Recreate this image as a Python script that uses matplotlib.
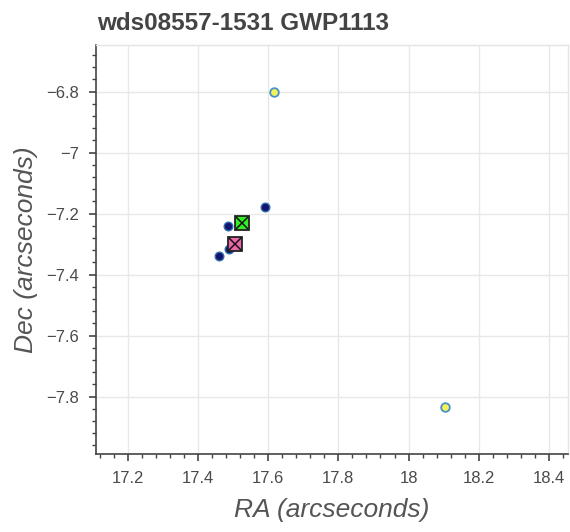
import matplotlib
matplotlib.use("Agg")
import matplotlib.pyplot as plt
from matplotlib.ticker import MultipleLocator, AutoMinorLocator, FuncFormatter

plt.rcParams['font.family'] = ['Liberation Sans', 'DejaVu Sans']

title = "wds08557-1531 GWP1113"
xlabel = "RA (arcseconds)"
ylabel = "Dec (arcseconds)"

# measurements (dark blue dots)
meas_ra = [17.591, 17.487, 17.489, 17.459]
meas_dec = [-7.177, -7.242, -7.315, -7.338]

# reference positions (yellow circles)
ref_ra = [17.618, 18.104]
ref_dec = [-6.802, -7.835]

# highlighted points
green_ra, green_dec = [17.526], [-7.231]
pink_ra, pink_dec = [17.507], [-7.298]

xlim = (17.11, 18.454)
ylim = (-7.988, -6.647)

fig = plt.figure(figsize=(5.70, 5.32), dpi=100)
ax = fig.add_axes([96/570, 1-454/532, (568-96)/570, (454-45)/532])

ax.set_xlim(*xlim)
ax.set_ylim(*ylim)

ax.grid(True, which='major', color='#e8e8e8', linewidth=1.0, zorder=0)
ax.set_axisbelow(True)

ax.plot(ref_ra, ref_dec, 'o', ms=6.2, mfc='#f2f25a', mec='#4a90c8', mew=1.3, zorder=3, linestyle='none')
ax.plot(meas_ra, meas_dec, 'o', ms=6.2, mfc='#14146e', mec='#2f6fb0', mew=1.0, zorder=3, linestyle='none')
ax.plot(green_ra, green_dec, 's', ms=10, mfc='#33ee22', mec='#222222', mew=1.3, zorder=4, linestyle='none')
ax.plot(green_ra, green_dec, 'x', ms=8.5, mec='#111111', mew=1.1, zorder=5, linestyle='none')
ax.plot(pink_ra, pink_dec, 's', ms=10, mfc='#ee66aa', mec='#222222', mew=1.3, zorder=4, linestyle='none')
ax.plot(pink_ra, pink_dec, 'x', ms=8.5, mec='#111111', mew=1.1, zorder=5, linestyle='none')

ax.xaxis.set_major_locator(MultipleLocator(0.2))
ax.yaxis.set_major_locator(MultipleLocator(0.2))
ax.xaxis.set_minor_locator(AutoMinorLocator(5))
ax.yaxis.set_minor_locator(AutoMinorLocator(5))

def fmt(v, pos):
    s = "%g" % round(v, 6)
    return s.replace('-', '\u2212')

ax.xaxis.set_major_formatter(FuncFormatter(fmt))
ax.yaxis.set_major_formatter(FuncFormatter(fmt))

for sp in ['top', 'right']:
    ax.spines[sp].set_color('#e5e5e5')
    ax.spines[sp].set_linewidth(1.0)
for sp in ['left', 'bottom']:
    ax.spines[sp].set_color('#444444')
    ax.spines[sp].set_linewidth(1.2)

ax.tick_params(which='major', direction='out', length=5, width=1.2, color='#444444',
               labelsize=12, labelcolor='#4a4a4a', pad=7)
ax.tick_params(which='minor', direction='out', length=3, width=1.0, color='#444444')

ax.set_xlabel(xlabel, fontsize=19, style='italic', color='#555555', labelpad=9)
ax.set_ylabel(ylabel, fontsize=19, style='italic', color='#555555', labelpad=6)

fig.text(97/570, 1-23/532, title, fontsize=17.5, fontweight='bold', color='#444444',
         ha='left', va='center')

fig.savefig("out.png", dpi=100, facecolor='white')
